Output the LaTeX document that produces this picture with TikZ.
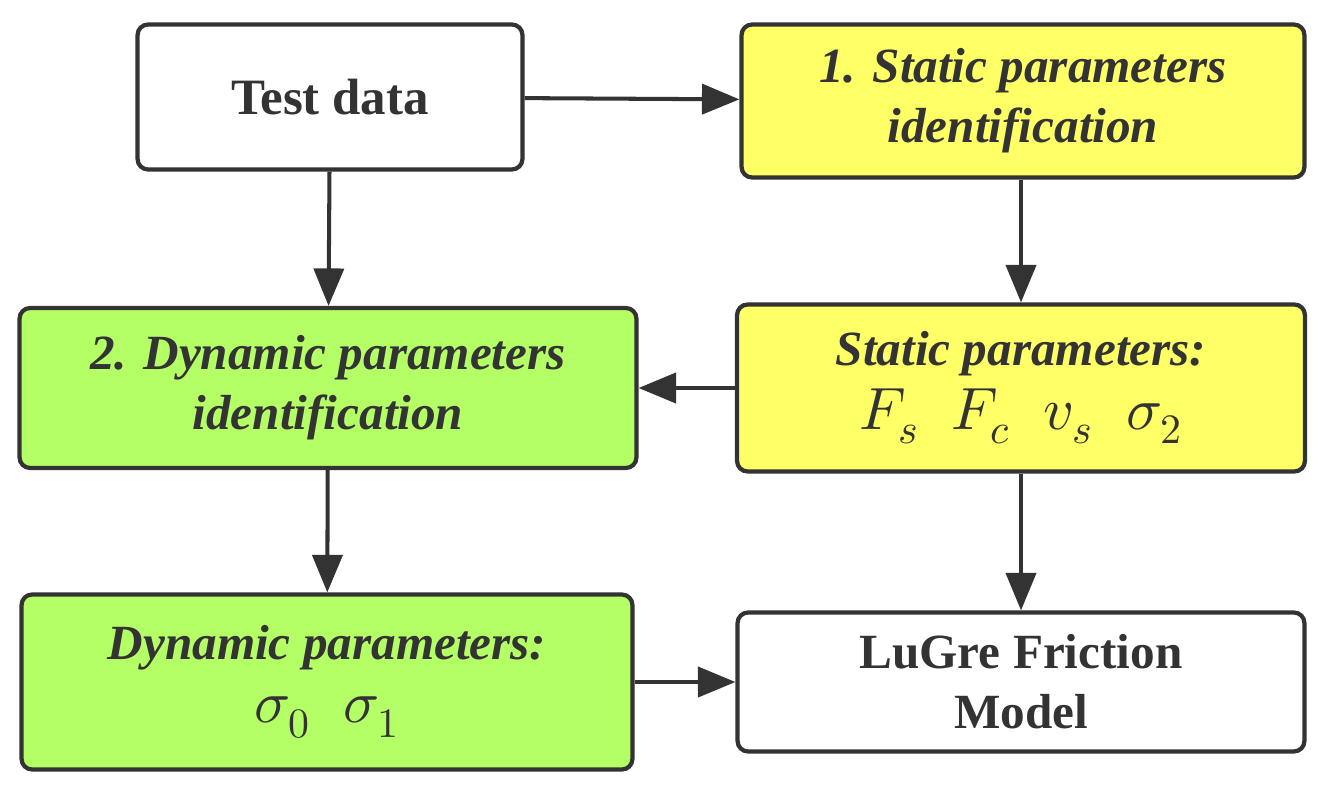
\documentclass[tikz,border=0pt]{standalone}
\usepackage{fontspec}
\usepackage{unicode-math}
\setmainfont{Liberation Serif}
\setmathfont{Latin Modern Math}
\usepackage{tikz}
\usetikzlibrary{arrows.meta,positioning}
\definecolor{boxline}{HTML}{333333}
\definecolor{statyellow}{HTML}{FFFF66}
\definecolor{dyngreen}{HTML}{B5FF66}
\newcommand{\bigmath}[1]{{\upshape\fontsize{34}{40}\selectfont$#1$}}
\tikzset{
  block/.style={rectangle, draw=boxline, line width=2.4pt, rounded corners=6pt, align=center, text=boxline, font=\fontsize{28}{34}\selectfont\bfseries\itshape},
  flow/.style={-{Triangle[length=0.75cm,width=0.6cm]}, line width=2.3pt, draw=boxline}
}
\begin{document}
\begin{tikzpicture}[x=0.02cm, y=-0.02cm]
    \useasboundingbox (0,0) rectangle (1326,798);
    \node (data) [block, fill=white, font=\fontsize{29}{35}\selectfont\bfseries, minimum width=7.7cm, minimum height=2.9cm] at (330,97) {Test data};
    \node (staticid) [block, fill=statyellow, minimum width=11.26cm, minimum height=3.06cm] at (1023,101) {1. Static parameters\\identification};
    \node (dynid) [block, fill=dyngreen, minimum width=12.34cm, minimum height=3.2cm] at (328,388) {2. Dynamic parameters\\identification};
    \node (staticpar) [block, fill=statyellow, minimum width=11.36cm, minimum height=3.34cm] at (1021,388) {Static parameters:\\[2pt]\bigmath{F_s\;\;F_c\;\;v_s\;\;\sigma_2}};
    \node (dynpar) [block, fill=dyngreen, minimum width=12.22cm, minimum height=3.5cm] at (327,682) {Dynamic parameters:\\[2pt]\bigmath{\sigma_0\;\;\sigma_1}};
    \node (lugre) [block, fill=white, font=\fontsize{28}{34}\selectfont\bfseries, minimum width=11.34cm, minimum height=2.78cm] at (1021,682) {LuGre Friction\\Model};

    \draw[flow] (data) -- (staticid);
    \draw[flow] (data) -- (dynid);
    \draw[flow] (staticid.south -| staticpar.north) -- (staticpar);
    \draw[flow] (staticpar) -- (dynid);
    \draw[flow] (dynid) -- (dynpar);
    \draw[flow] (staticpar) -- (lugre);
    \draw[flow] (dynpar) -- (lugre);
\end{tikzpicture}
\end{document}
